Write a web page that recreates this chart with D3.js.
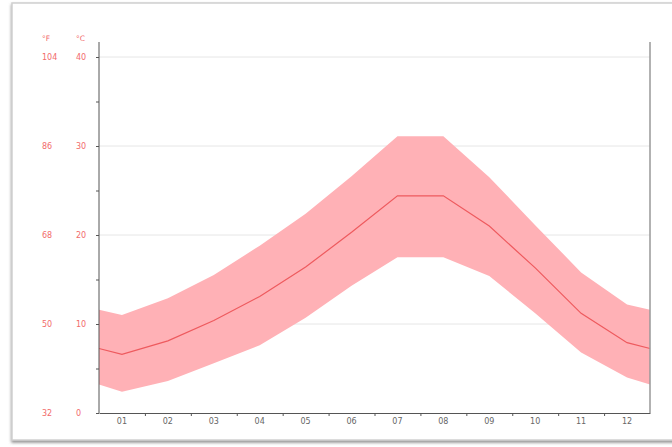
<!DOCTYPE html>
<html>
<head>
<meta charset="utf-8">
<script src="https://d3js.org/d3.v7.min.js"></script>
<style>
  body { margin: 0; background: #fff; }
  text { font-family: "DejaVu Sans", sans-serif; }
</style>
</head>
<body>
<script>
  var width = 672, height = 447;

  // monthly temperatures, °C
  var months = ["01", "02", "03", "04", "05", "06", "07", "08", "09", "10", "11", "12"];
  var tMean = [6.6, 8.1, 10.4, 13.1, 16.4, 20.3, 24.4, 24.4, 21.0, 16.3, 11.2, 7.9];
  var tMax  = [11.0, 12.9, 15.5, 18.8, 22.4, 26.6, 31.1, 31.1, 26.5, 21.1, 15.8, 12.2];
  var tMin  = [2.4, 3.6, 5.6, 7.6, 10.7, 14.3, 17.5, 17.5, 15.4, 11.2, 6.8, 4.0];
  var cTicks = [0, 10, 20, 30, 40];
  var fTicks = ["32", "50", "68", "86", "104"];

  // plot box (window.top is read-only, so use other names)
  var pL = 99, pR = 650, pT = 42, pB = 413;

  var svg = d3.select("body").append("svg")
      .attr("width", width)
      .attr("height", height);

  // card frame with shadow
  var defs = svg.append("defs");
  var sh = defs.append("filter").attr("id", "shadow").attr("x", "-5%").attr("y", "-5%")
      .attr("width", "110%").attr("height", "110%");
  sh.append("feDropShadow").attr("dx", 0).attr("dy", 2).attr("stdDeviation", 1.5)
      .attr("flood-color", "#777").attr("flood-opacity", 0.8);

  svg.append("rect")
      .attr("x", 12).attr("y", 3)
      .attr("width", 700).attr("height", 437)
      .attr("fill", "#fff")
      .attr("stroke", "#d0d0d0")
      .attr("stroke-width", 1.5)
      .attr("filter", "url(#shadow)");

  var x = d3.scaleBand().domain(months).range([pL, pR]);
  var y = d3.scaleLinear().domain([0, 40]).range([pB, pT + 15]);

  // gridlines
  svg.append("g").selectAll("line")
      .data(cTicks.slice(1))
      .join("line")
      .attr("x1", pL).attr("x2", pR)
      .attr("y1", d => y(d)).attr("y2", d => y(d))
      .attr("stroke", "#e6e6e6")
      .attr("stroke-width", 1);

  // wrap the curve to the plot edges (Dec/Jan average)
  function edges(arr) {
    var e = (arr[0] + arr[arr.length - 1]) / 2;
    var pts = [[pL, e]];
    arr.forEach((v, i) => pts.push([x(months[i]) + x.bandwidth() / 2, v]));
    pts.push([pR, e]);
    return pts;
  }

  var hi = edges(tMax), lo = edges(tMin), mid = edges(tMean);

  var area = d3.area()
      .x((d, i) => hi[i][0])
      .y0((d, i) => y(lo[i][1]))
      .y1((d, i) => y(hi[i][1]));

  svg.append("path")
      .datum(hi)
      .attr("d", area)
      .attr("fill", "#ffb1b6");

  svg.append("path")
      .datum(mid)
      .attr("d", d3.line().x(d => d[0]).y(d => y(d[1])))
      .attr("fill", "none")
      .attr("stroke", "#ee5a5e")
      .attr("stroke-width", 1.2);

  // axes
  var yAxis = d3.axisLeft(y).tickValues(d3.range(0, 41, 5)).tickSize(3).tickFormat("");
  svg.append("g")
      .attr("transform", "translate(" + pL + ",0)")
      .call(yAxis)
      .call(g => g.select(".domain").attr("d", "M0," + pT + "V" + pB))
      .call(g => g.selectAll("line, path").attr("stroke", "#555"));

  var xTick = d3.scaleLinear().domain([0, 12]).range([pL, pR]);
  var xAxis = d3.axisBottom(xTick).tickValues(d3.range(1, 12)).tickSize(3).tickSizeOuter(0).tickFormat("");
  svg.append("g")
      .attr("transform", "translate(0," + pB + ")")
      .call(xAxis)
      .call(g => g.selectAll("line, path").attr("stroke", "#555"));

  // right border
  svg.append("line")
      .attr("x1", pR).attr("x2", pR)
      .attr("y1", pT).attr("y2", pB)
      .attr("stroke", "#999").attr("stroke-width", 1.5);

  // month labels
  svg.append("g").selectAll("text")
      .data(months)
      .join("text")
      .attr("x", d => x(d) + x.bandwidth() / 2)
      .attr("y", pB + 11)
      .attr("text-anchor", "middle")
      .attr("font-size", "8px")
      .attr("fill", "#666")
      .text(d => d);

  // °C and °F labels
  var red = "#f26b6b";
  svg.append("g").selectAll("text")
      .data(cTicks)
      .join("text")
      .attr("x", 76)
      .attr("y", d => y(d) + 3)
      .attr("font-size", "8px")
      .attr("fill", red)
      .text(d => d);

  svg.append("g").selectAll("text")
      .data(fTicks)
      .join("text")
      .attr("x", 42)
      .attr("y", (d, i) => y(cTicks[i]) + 3)
      .attr("font-size", "8px")
      .attr("fill", red)
      .text(d => d);

  svg.append("text").attr("x", 42).attr("y", 41).attr("font-size", "7.5px")
      .attr("fill", red).text("°F");
  svg.append("text").attr("x", 76).attr("y", 41).attr("font-size", "7.5px")
      .attr("fill", red).text("°C");
</script>
</body>
</html>
